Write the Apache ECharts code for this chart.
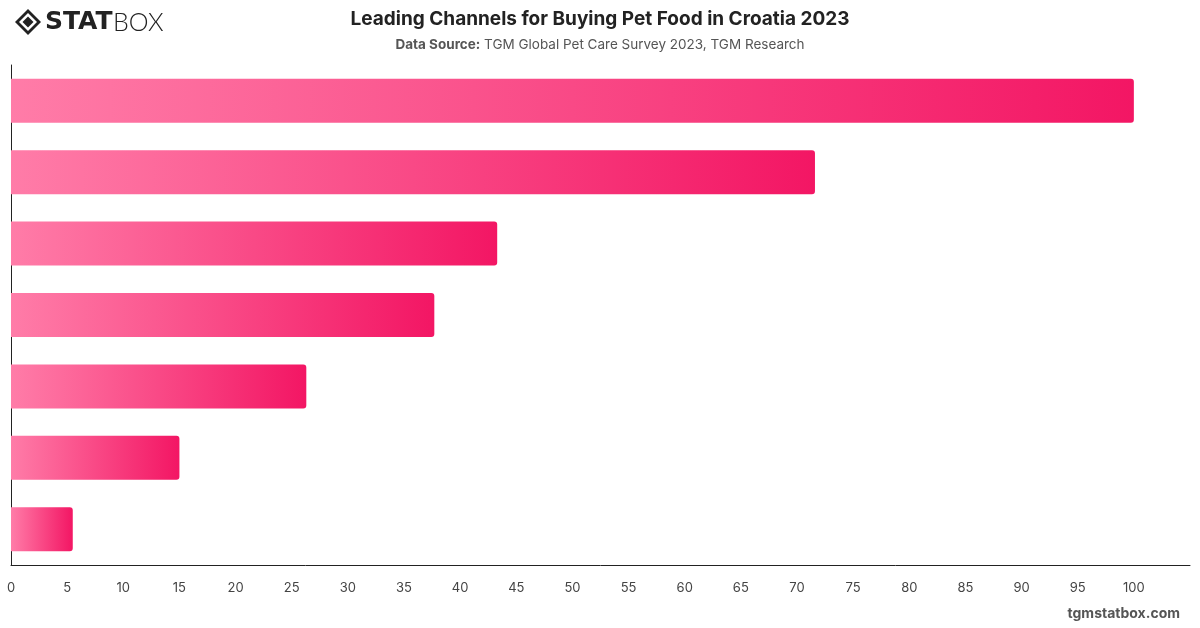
<!DOCTYPE html>
<html>
<head>
<meta charset="utf-8">
<script src="https://cdn.jsdelivr.net/npm/echarts@6/dist/echarts.min.js"></script>
<style>
  html, body { margin: 0; padding: 0; background: #fff; }
  #chart { width: 1200px; height: 628px; }
</style>
</head>
<body>
<div id="chart"></div>
<script>
var channels = ['Channel 1', 'Channel 2', 'Channel 3', 'Channel 4', 'Channel 5', 'Channel 6', 'Channel 7'];
var shares = [100, 71.6, 43.3, 37.7, 26.3, 15.0, 5.5];
var tickStep = 5;

var dom = document.getElementById('chart');
var myChart = echarts.init(dom);

var barColor = new echarts.graphic.LinearGradient(0, 0, 1, 0, [
    { offset: 0, color: '#ff7ca8' },
    { offset: 1, color: '#f31664' }
]);

var option = {
    backgroundColor: '#fff',
    textStyle: { fontFamily: 'Inter, "Noto Sans", sans-serif' },
    title: {
        text: 'Leading Channels for Buying Pet Food in Croatia 2023',
        subtext: '{b|Data Source:} TGM Global Pet Care Survey 2023, TGM Research',
        left: 'center',
        top: 5,
        itemGap: 9,
        textStyle: { fontSize: 19, fontWeight: 'bold', color: '#222' },
        subtextStyle: {
            fontSize: 13.5,
            color: '#555',
            rich: { b: { fontSize: 13.5, fontWeight: 'bold', color: '#555' } }
        }
    },
    grid: { left: 11, right: 10, top: 65, bottom: 63, containLabel: false },
    xAxis: {
        type: 'value',
        min: 0,
        max: 105,
        interval: tickStep,
        axisLine: { show: true, lineStyle: { color: '#222', width: 1 } },
        axisTick: { show: false },
        splitLine: { show: false },
        axisLabel: {
            color: '#444',
            fontSize: 13,
            margin: 17,
            showMaxLabel: false
        }
    },
    yAxis: {
        type: 'category',
        data: channels,
        inverse: true,
        axisLine: { show: true, lineStyle: { color: '#222', width: 1 } },
        axisTick: { show: false },
        axisLabel: { show: false }
    },
    series: [{
        type: 'bar',
        data: shares,
        barWidth: 44,
        itemStyle: { color: barColor, borderRadius: [0, 3, 3, 0] }
    }],
    graphic: [
        {
            type: 'group',
            left: 15,
            top: 9,
            children: [
                { type: 'polygon', shape: { points: [[13, 0], [26, 13], [13, 26], [0, 13]] }, style: { fill: '#222' } },
                { type: 'polygon', shape: { points: [[13, 4], [22, 13], [13, 22], [4, 13]] }, style: { fill: '#fff' } },
                { type: 'polygon', shape: { points: [[13, 7.5], [18.5, 13], [13, 18.5], [7.5, 13]] }, style: { fill: '#222' } },
                { type: 'text', x: 30, y: 1, style: { text: 'STAT', font: '900 25px "DejaVu Sans", sans-serif', fill: '#222' } },
                { type: 'text', x: 98, y: 1, style: { text: 'BOX', font: '300 25px Lato, sans-serif', fill: '#222' } }
            ]
        },
        {
            type: 'text',
            right: 20,
            top: 607,
            style: { text: 'tgmstatbox.com', font: 'bold 14px Inter, sans-serif', fill: '#555' }
        }
    ]
};

myChart.setOption(option, true);
</script>
</body>
</html>
